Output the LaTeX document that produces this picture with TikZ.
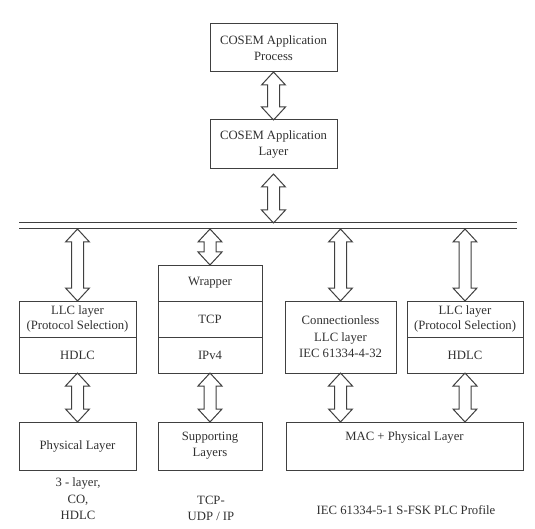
\documentclass[tikz,border=0pt]{standalone}
\usepackage{fontspec}
\setmainfont{Liberation Serif}
\usetikzlibrary{calc}
\definecolor{ink}{HTML}{303030}
\definecolor{lineink}{HTML}{404040}
\tikzset{
  box/.style={draw=lineink, line width=1pt, rectangle, inner sep=0pt, outer sep=0pt,
    align=center, text=ink, font=\fontsize{12.7}{15.5}\selectfont},
  lbl/.style={inner sep=0pt, outer sep=0pt, align=center, text=ink,
    font=\fontsize{12.7}{16.5}\selectfont},
  busline/.style={draw=lineink, line width=1pt},
  dbl/.style={draw=lineink, line width=1pt, fill=white, line join=miter,
    to path={let \p1=(\tikztostart), \p2=(\tikztotarget) in
      (\x1,\y1) -- (\x1+12pt,\y1-13pt) -- (\x1+6pt,\y1-13pt) -- (\x1+6pt,\y2+13pt)
      -- (\x1+12pt,\y2+13pt) -- (\x1,\y2) -- (\x1-12pt,\y2+13pt) -- (\x1-6pt,\y2+13pt)
      -- (\x1-6pt,\y1-13pt) -- (\x1-12pt,\y1-13pt) -- cycle}}
}
\begin{document}
\begin{tikzpicture}[x=1pt,y=-1pt]
\useasboundingbox (0,0) rectangle (535,529);

% top boxes
\node[box, minimum width=127pt, minimum height=48pt] (proc) at (273.5,48) {COSEM Application\\Process};
\node[box, minimum width=127pt, minimum height=49pt] (lay) at (273.5,144.5) {COSEM Application\\Layer};

% bus
\coordinate (bt1) at (19,223);
\coordinate (bt2) at (517,223);
\coordinate (bb1) at (19,229);
\coordinate (bb2) at (517,229);
\draw[busline] (bt1) -- (bt2);
\draw[busline] (bb1) -- (bb2);

% left stack
\node[box, minimum width=117pt, minimum height=36pt] (llcA) at (77.5,319) {LLC layer\\(Protocol Selection)};
\node[box, minimum width=117pt, minimum height=36pt] (hdlcA) at (77.5,355) {HDLC};

% middle stack
\node[box, minimum width=104pt, minimum height=36pt] (wrap) at (210,283) {Wrapper};
\node[box, minimum width=104pt, minimum height=36pt] (tcp) at (210,319) {TCP};
\node[box, minimum width=104pt, minimum height=36pt] (ipv) at (210,355) {IPv4};

% connectionless
\node[box, minimum width=111pt, minimum height=72pt, font=\fontsize{12.7}{16.5}\selectfont] (conn) at (340.5,337) {Connectionless\\LLC layer\\IEC 61334-4-32};

% right stack
\node[box, minimum width=116pt, minimum height=36pt] (llcB) at (465,319) {LLC layer\\(Protocol Selection)};
\node[box, minimum width=116pt, minimum height=36pt] (hdlcB) at (465,355) {HDLC};

% bottom row
\node[box, minimum width=117pt, minimum height=48pt] (phys) at (77.5,446) {Physical Layer};
\node[box, minimum width=104pt, minimum height=48pt, font=\fontsize{12.7}{16}\selectfont] (supp) at (210,446) {Supporting\\Layers};
\node[box, minimum width=237pt, minimum height=48pt] (mac) at (404.5,446) {};
\node[lbl] (mactxt) at ($(mac.north)+(0,15)$) {MAC + Physical Layer};

% bottom labels
\node[lbl] (labA) at (78,499) {3 - layer,\\CO,\\HDLC};
\node[lbl] (labB) at (211,508.5) {TCP-\\UDP / IP};
\node[lbl] (labC) at (406,510) {IEC 61334-5-1 S-FSK PLC Profile};

% arrows
\draw[dbl] (proc.south) to (lay.north);
\draw[dbl] ($(lay.south)+(0,5)$) to (bt1 -| lay.south);
\draw[dbl] (bb1 -| llcA.north) to (llcA.north);
\draw[dbl] (bb1 -| wrap.north) to (wrap.north);
\draw[dbl] (bb1 -| conn.north) to (conn.north);
\draw[dbl] (bb1 -| llcB.north) to (llcB.north);
\draw[dbl] (hdlcA.south) to (phys.north);
\draw[dbl] (ipv.south) to (supp.north);
\draw[dbl] (conn.south) to (mac.north -| conn.south);
\draw[dbl] (hdlcB.south) to (mac.north -| hdlcB.south);
\end{tikzpicture}
\end{document}
